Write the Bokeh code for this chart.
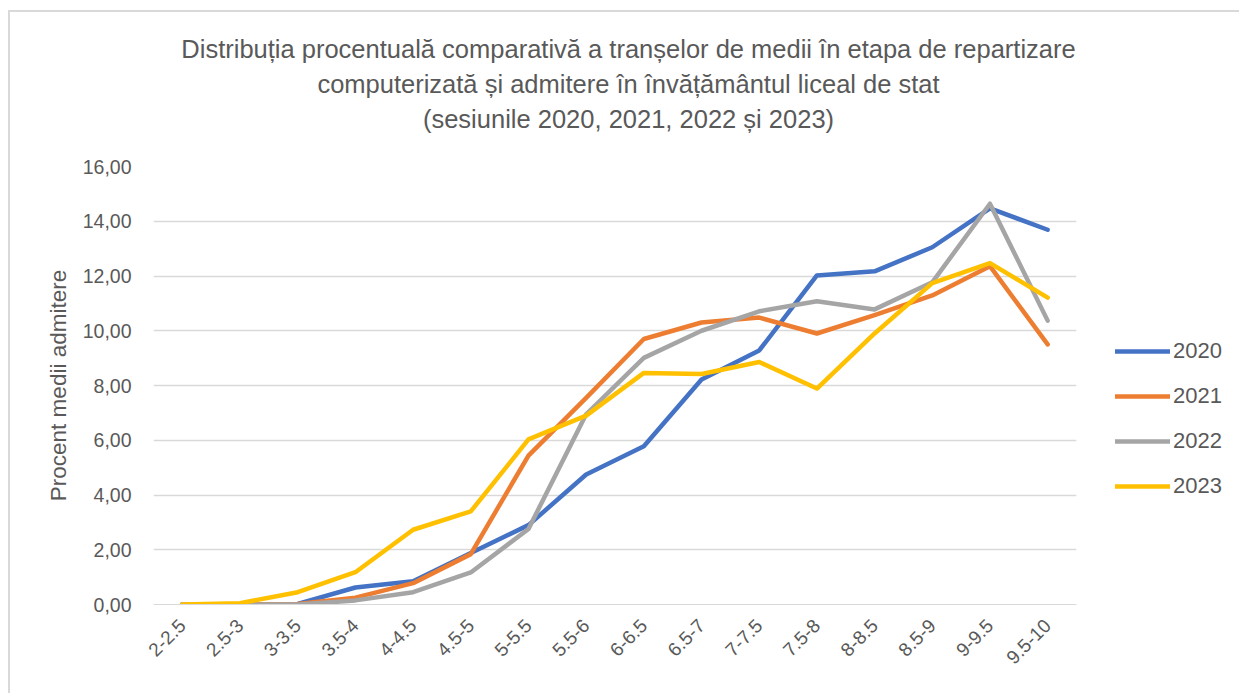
from bokeh.plotting import figure
from bokeh.layouts import column, row
from bokeh.models import (FactorRange, Range1d, Legend, LegendItem, Label,
                          FixedTicker)
from bokeh.embed import file_html
from bokeh.resources import INLINE

# ---------------- data ----------------
categories = ["2-2.5", "2.5-3", "3-3.5", "3.5-4", "4-4.5", "4.5-5", "5-5.5", "5.5-6",
              "6-6.5", "6.5-7", "7-7.5", "7.5-8", "8-8.5", "8.5-9", "9-9.5", "9.5-10"]
years = ["2020", "2021", "2022", "2023"]
v2020 = [0.0, 0.0, 0.02, 0.62, 0.85, 1.88, 2.9, 4.75, 5.78, 8.22, 9.28, 12.02, 12.17, 13.05, 14.47, 13.69]
v2021 = [0.0, 0.0, 0.02, 0.25, 0.78, 1.84, 5.44, 7.55, 9.70, 10.30, 10.48, 9.90, 10.57, 11.29, 12.36, 9.50]
v2022 = [0.0, 0.0, 0.0, 0.15, 0.45, 1.17, 2.76, 6.95, 9.01, 10.00, 10.71, 11.08, 10.78, 11.77, 14.64, 10.37]
v2023 = [0.0, 0.05, 0.45, 1.18, 2.73, 3.40, 6.03, 6.90, 8.46, 8.42, 8.86, 7.89, 9.90, 11.74, 12.47, 11.21]
y_ticks = [0, 2, 4, 6, 8, 10, 12, 14, 16]
y_tick_labels = ["0,00", "2,00", "4,00", "6,00", "8,00", "10,00", "12,00", "14,00", "16,00"]
title_lines = ["Distribuția procentuală comparativă a tranșelor de medii în etapa de repartizare",
               "computerizată și admitere în învățământul liceal de stat",
               "(sesiunile 2020, 2021, 2022 și 2023)"]
y_label = "Procent medii admitere"

colors = ["#4472C4", "#ED7D31", "#A5A5A5", "#FFC000"]
series = [v2020, v2021, v2022, v2023]
FONT = "Liberation Sans"
TXT = "#595959"
GRID = "#d9d9d9"

W_ALL, H_TITLE, W_MAIN, H_MAIN = 1229, 128, 1080, 553


def blank(fig):
    fig.outline_line_color = None
    fig.background_fill_color = "white"
    fig.border_fill_color = "white"
    fig.xgrid.visible = False
    fig.ygrid.visible = False


# ---------------- title panel ----------------
tf = figure(width=W_ALL, height=H_TITLE, x_range=Range1d(0, W_ALL), y_range=Range1d(H_TITLE, 0),
            x_axis_type=None, y_axis_type=None, output_backend="svg", toolbar_location=None,
            min_border=0)
blank(tf)
for i, line in enumerate(title_lines):
    tf.add_layout(Label(x=618, y=36 + 35 * i, text=line, text_align="center",
                        text_baseline="middle", text_font=FONT, text_font_size="25.5px",
                        text_color=TXT))

# ---------------- main chart ----------------
p = figure(x_range=FactorRange(*categories), y_range=Range1d(0, 16),
           width=W_MAIN, height=H_MAIN, output_backend="svg", toolbar_location=None,
           min_border_left=143, min_border_right=14, min_border_top=26, min_border_bottom=89)
p.outline_line_color = None
p.background_fill_color = "white"
p.border_fill_color = "white"

p.yaxis.ticker = FixedTicker(ticks=y_ticks)
p.yaxis.major_label_overrides = {t: l for t, l in zip(y_ticks, y_tick_labels)}
p.yaxis.axis_line_color = None
p.yaxis.major_tick_line_color = None
p.yaxis.minor_tick_line_color = None
p.yaxis.major_label_standoff = 16
p.yaxis.major_label_text_font = FONT
p.yaxis.major_label_text_font_size = "19.5px"
p.yaxis.major_label_text_color = TXT
p.yaxis.axis_label = y_label
p.yaxis.axis_label_text_font = FONT
p.yaxis.axis_label_text_font_size = "22.5px"
p.yaxis.axis_label_text_font_style = "normal"
p.yaxis.axis_label_text_color = TXT
p.yaxis.axis_label_standoff = 9

p.xaxis.axis_line_color = GRID
p.xaxis.major_tick_line_color = None
p.xaxis.minor_tick_line_color = None
p.xaxis.major_label_orientation = 0.785398
p.xaxis.major_label_standoff = 12
p.xaxis.major_label_text_font = FONT
p.xaxis.major_label_text_font_size = "19px"
p.xaxis.major_label_text_color = TXT

p.xgrid.grid_line_color = None
p.ygrid.grid_line_color = GRID
p.ygrid.grid_line_width = 1.3

for vals, col in zip(series, colors):
    p.line(x=categories, y=vals, line_color=col, line_width=4.5,
           line_join="round", line_cap="round")

# ---------------- legend panel ----------------
# same series drawn in a range where they stay out of view: only the legend shows
lf = figure(width=W_ALL - W_MAIN, height=H_MAIN, x_range=FactorRange(*categories),
            y_range=Range1d(100, 101),
            x_axis_type=None, y_axis_type=None, output_backend="svg", toolbar_location=None,
            min_border=0)
blank(lf)
leg_renderers = [lf.line(x=categories, y=vals, line_color=col, line_width=4.5, line_cap="round")
                 for vals, col in zip(series, colors)]
legend = Legend(items=[LegendItem(label=y, renderers=[r]) for y, r in zip(years, leg_renderers)],
                location=(25, 105), orientation="vertical",
                glyph_width=55, glyph_height=26, label_height=26, spacing=19,
                label_standoff=3, padding=0, margin=0,
                label_text_font=FONT, label_text_font_size="22px", label_text_color=TXT,
                border_line_color=None, background_fill_alpha=0)
lf.add_layout(legend, "center")

layout = column(tf, row(p, lf),
                styles={"border-top": "2px solid #d9d9d9", "border-left": "2px solid #d9d9d9",
                        "margin-top": "10px", "margin-left": "8px"})

open("out.html", "w").write(file_html(layout, INLINE))
